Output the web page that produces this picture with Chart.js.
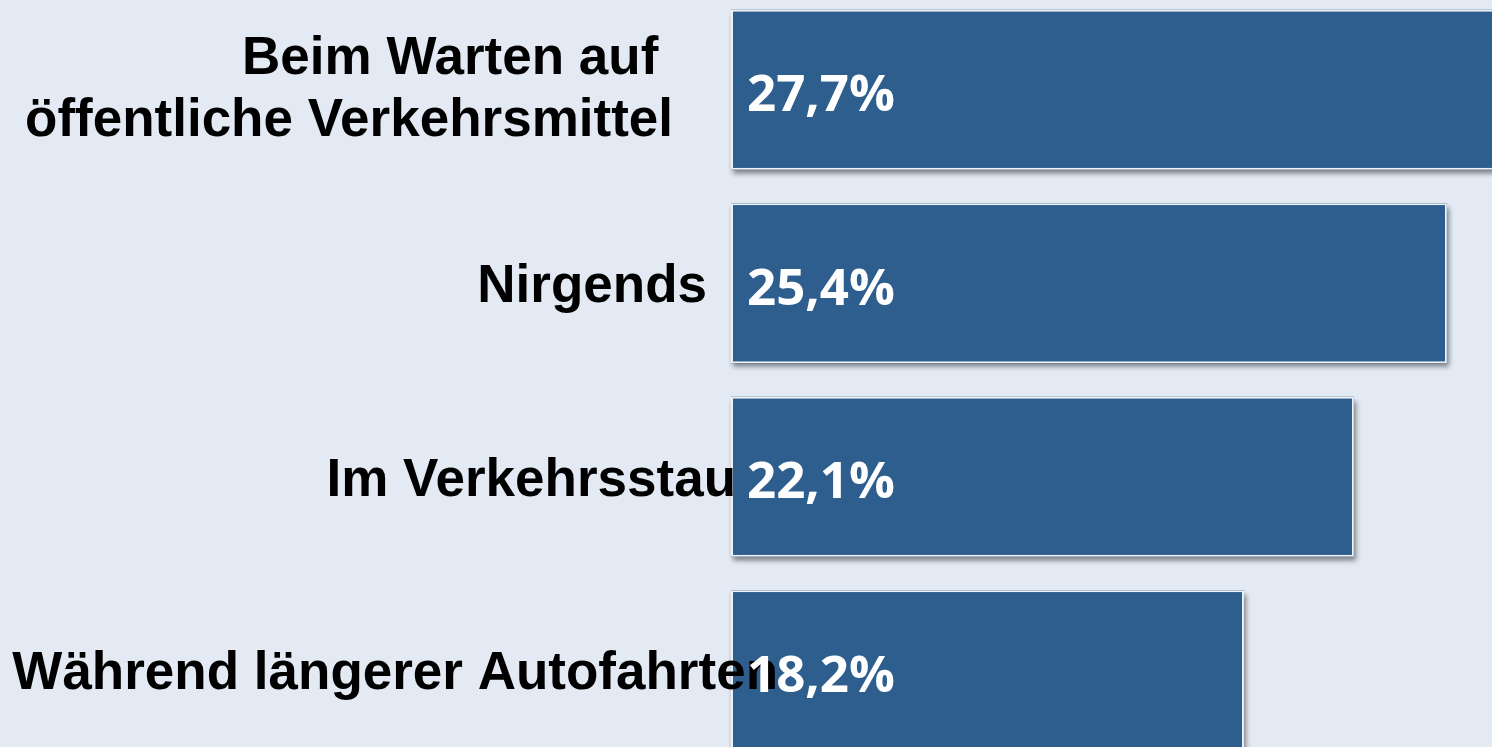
<!DOCTYPE html>
<html>
<head>
<meta charset="utf-8">
<script src="https://cdn.jsdelivr.net/npm/chart.js@4"></script>
<style>
  html, body { margin: 0; padding: 0; background: #e3eaf4; overflow: hidden; }
  #wrap { position: absolute; left: 0; top: -7px; width: 1492px; height: 774px; }
</style>
</head>
<body>
<div id="wrap"><canvas id="myChart" width="1492" height="774"></canvas></div>
<script>
// Daten
const categories = [
    ['Beim Warten auf ', 'öffentliche Verkehrsmittel'],
    ['Nirgends'],
    ['Im Verkehrsstau'],
    ['Während längerer Autofahrten']
];
const values = [27.7, 25.4, 22.1, 18.2];
const valueLabels = ['27,7%', '25,4%', '22,1%', '18,2%'];

// rechte Kante der Beschriftungen (wie im Original frei platziert)
const labelRight = [673, 707, 736, 778];

const ctx = document.getElementById('myChart').getContext('2d');

// Schatten unter den Balken
const barShadow = {
    id: 'barShadow',
    beforeDatasetsDraw(chart) {
        const c = chart.ctx;
        const meta = chart.getDatasetMeta(0);
        c.save();
        c.shadowColor = 'rgba(0,0,0,0.45)';
        c.shadowBlur = 5;
        c.shadowOffsetX = 2;
        c.shadowOffsetY = 4;
        c.fillStyle = '#2d5e8e';
        meta.data.forEach(bar => {
            const h = bar.height;
            c.fillRect(bar.base, bar.y - h / 2, bar.x - bar.base, h);
        });
        c.restore();
    }
};

// Beschriftungen der Kategorien und Werte
const textLabels = {
    id: 'textLabels',
    afterDatasetsDraw(chart) {
        const c = chart.ctx;
        const meta = chart.getDatasetMeta(0);
        c.save();
        c.font = 'bold 53px "Liberation Sans", Arial, sans-serif';
        c.fillStyle = '#000';
        c.textAlign = 'right';
        c.textBaseline = 'alphabetic';
        categories.forEach((lines, i) => {
            const y = chart.scales.y.getPixelForValue(i);
            const n = lines.length;
            lines.forEach((line, k) => {
                const off = (k - (n - 1) / 2) * 62;
                c.fillText(line, labelRight[i], y + 19 + off - (n > 1 ? 4 : 0));
            });
        });
        c.font = 'bold 51px "Open Sans", sans-serif';
        c.fillStyle = '#ffffff';
        c.textAlign = 'left';
        meta.data.forEach((bar, i) => {
            c.fillText(valueLabels[i], bar.base + 16, bar.y + 21.5);
        });
        c.restore();
    }
};

new Chart(ctx, {
    type: 'bar',
    data: {
        labels: categories,
        datasets: [{
            data: values,
            backgroundColor: '#2d5e8e',
            borderColor: '#eef1f5',
            borderWidth: 2,
            borderSkipped: false,
            categoryPercentage: 1,
            barPercentage: 0.827
        }]
    },
    options: {
        indexAxis: 'y',
        responsive: false,
        animation: false,
        layout: { padding: { left: 731, right: 0, top: 0, bottom: 0 } },
        scales: {
            x: { display: false, min: 0, max: 27.0 },
            y: { display: false }
        },
        plugins: {
            legend: { display: false },
            tooltip: { enabled: false }
        }
    },
    plugins: [barShadow, textLabels]
});
</script>
</body>
</html>
